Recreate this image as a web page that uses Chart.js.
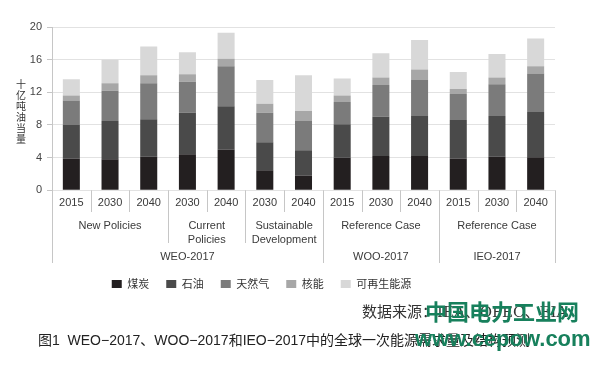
<!DOCTYPE html>
<html><head><meta charset="utf-8">
<script src="https://cdn.jsdelivr.net/npm/chart.js@4.4.1/dist/chart.umd.min.js"></script>
<style>html,body{margin:0;padding:0;background:#fff}#wrap{width:601px;height:369px;position:relative}</style>
</head><body><div id="wrap"><canvas id="c" width="601" height="369"></canvas></div>
<script>
// ---- data ----
const years = ['2015','2030','2040','2030','2040','2030','2040','2015','2030','2040','2015','2030','2040'];
const scenarioLabels = [['New Policies'], ['Current','Policies'], ['Sustainable','Development'], ['Reference Case'], ['Reference Case']];
const scenarioSpans = [[0,2],[3,4],[5,6],[7,9],[10,12]];
const orgLabels = ['WEO-2017','WOO-2017','IEO-2017'];
const orgSpans = [[0,6],[7,9],[10,12]];
const seriesNames = ['煤炭','石油','天然气','核能','可再生能源'];
const coal    = [3.9, 3.8, 4.1, 4.4, 5.0, 2.45, 1.8, 4.0, 4.2, 4.2, 3.9, 4.1, 4.05];
const oil     = [4.1, 4.7, 4.6, 5.1, 5.3, 3.45, 3.1, 4.1, 4.8, 4.9, 4.7, 5.0, 5.55];
const gas     = [3.0, 3.7, 4.4, 3.8, 4.9, 3.6, 3.6, 2.7, 3.9, 4.4, 3.2, 3.9, 4.7];
const nuclear = [0.6, 0.9, 1.0, 0.9, 0.9, 1.1, 1.2, 0.8, 0.9, 1.3, 0.6, 0.8, 0.9];
const renew   = [2.0, 2.9, 3.5, 2.7, 3.2, 2.9, 4.4, 2.1, 3.0, 3.6, 2.1, 2.9, 3.4];
const yTitle = '十亿吨油当量';
const sourceText = '数据来源：IEA、OPEC、EIA';
const captionText = '图1  WEO−2017、WOO−2017和IEO−2017中的全球一次能源需求量及结构预测';
const watermark1 = '中国电力工业网';
const watermark2 = 'www.cepow.com';

const colors = ['#231f20','#4a4a4a','#7b7b7b','#a7a7a7','#d8d8d8'];
const LAT = '"Liberation Sans", Arial, "Noto Sans CJK SC", sans-serif';
const CJK = '"Noto Sans CJK SC", "Liberation Sans", sans-serif';

const extras = {
  id: 'extras',
  afterLayout(chart) {
    const lg = chart.legend;
    if (lg) { lg.left -= 16; lg.right -= 16; }
  },
  afterDraw(chart) {
    const ctx = chart.ctx;
    const x = chart.scales.x;
    const n = years.length;
    const px = i => x.getPixelForValue(i);
    const half = (px(1) - px(0)) / 2;
    const bottom = chart.chartArea.bottom;
    const edgeL = px(0) - half, edgeR = px(n - 1) + half;
    ctx.save();
    ctx.strokeStyle = '#c6c6c6';
    ctx.lineWidth = 1;
    const vline = (xp, y1, y2) => { ctx.beginPath(); ctx.moveTo(Math.round(xp) + 0.5, y1); ctx.lineTo(Math.round(xp) + 0.5, y2); ctx.stroke(); };
    const orgEnds = orgSpans.map(s => s[1]);
    const scEnds = scenarioSpans.map(s => s[1]);
    for (let i = 0; i < n - 1; i++) {
      const b = (px(i) + px(i + 1)) / 2;
      vline(b, bottom, orgEnds.includes(i) ? 263 : scEnds.includes(i) ? 243 : 212);
    }
    vline(edgeL, bottom, 263);
    vline(edgeR, bottom, 263);

    ctx.fillStyle = '#3a3a3a';
    ctx.textAlign = 'center';
    ctx.textBaseline = 'middle';
    ctx.font = '11px ' + LAT;
    years.forEach((t, i) => ctx.fillText(t, px(i), 203));
    scenarioLabels.forEach((lines, k) => {
      const [a, b] = scenarioSpans[k];
      const cx = (px(a) + px(b)) / 2;
      lines.forEach((ln, j) => ctx.fillText(ln, cx, 226 + j * 14));
    });
    orgLabels.forEach((t, k) => {
      const [a, b] = orgSpans[k];
      ctx.fillText(t, (px(a) + px(b)) / 2, 257);
    });

    // y axis title, stacked characters
    ctx.font = '10px ' + CJK;
    ctx.fillStyle = '#333';
    [...yTitle].forEach((ch, j) => ctx.fillText(ch, 21, 84 + j * 11));

    // source
    ctx.textAlign = 'left';
    ctx.font = '15px "DejaVu Serif", "Noto Sans CJK SC", serif';
    ctx.fillStyle = '#333';
    ctx.fillText(sourceText, 362, 313);

    // caption
    ctx.font = '14px ' + LAT;
    ctx.fillStyle = '#222';
    ctx.fillText(captionText, 38, 341);

    // watermark
    ctx.fillStyle = '#17805c';
    ctx.font = 'bold 22px ' + CJK;
    ctx.fillText(watermark1, 425, 312);
    ctx.font = 'bold 22px ' + LAT;
    ctx.fillText(watermark2, 415, 340);
    ctx.restore();
  }
};

const data = [coal, oil, gas, nuclear, renew];
new Chart(document.getElementById('c'), {
  type: 'bar',
  data: {
    labels: years,
    datasets: seriesNames.map((name, k) => ({
      label: name,
      data: data[k],
      backgroundColor: colors[k],
      borderWidth: 0,
      categoryPercentage: 1,
      barPercentage: 0.44
    }))
  },
  options: {
    responsive: false,
    animation: false,
    devicePixelRatio: 1,
    layout: { padding: { top: 27, right: 46, bottom: 69.5, left: 0 } },
    plugins: {
      title: { display: false },
      tooltip: { enabled: false },
      legend: {
        position: 'bottom',
        labels: {
          boxWidth: 10, boxHeight: 8, padding: 17,
          color: '#333',
          font: { family: CJK, size: 11 }
        }
      }
    },
    scales: {
      x: {
        stacked: true,
        grid: { display: false },
        border: { display: false },
        ticks: { display: false },
        afterFit(s) { s.height = 71.2; }
      },
      y: {
        stacked: true,
        min: 0, max: 20,
        ticks: { stepSize: 4, padding: 5, color: '#444', font: { family: LAT, size: 11 } },
        grid: { color: '#e2e2e2', tickLength: 5, tickColor: '#c6c6c6' },
        border: { color: '#c6c6c6' },
        afterFit(s) { s.width = 52; }
      }
    }
  },
  plugins: [extras]
});
</script>
</body></html>
